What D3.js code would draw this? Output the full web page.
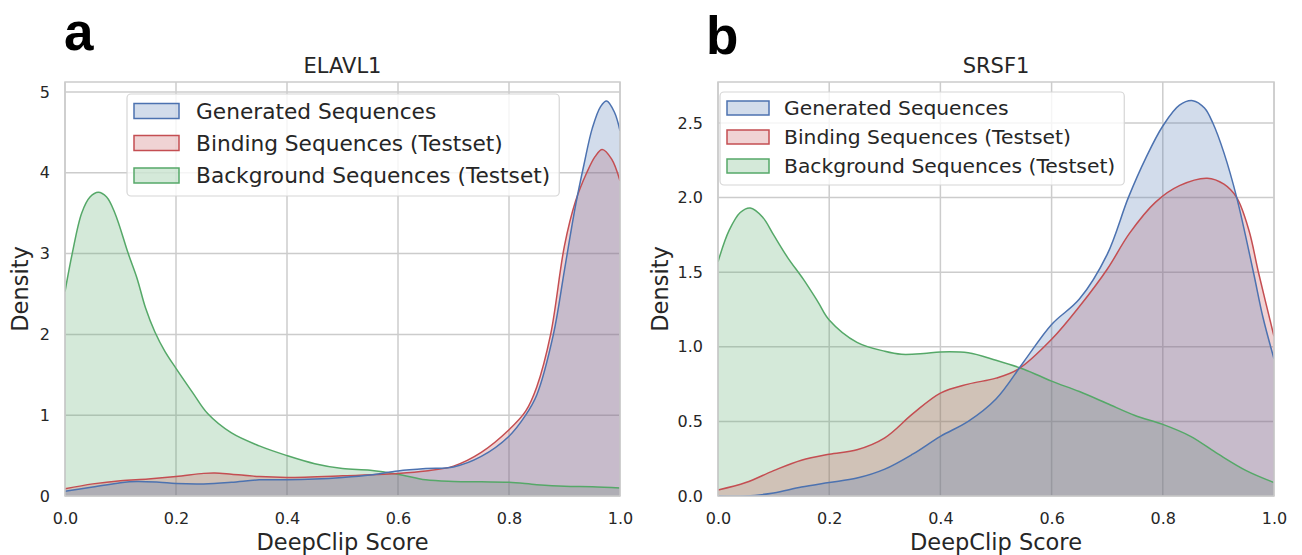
<!DOCTYPE html>
<html><head><meta charset="utf-8">
<script src="https://cdn.jsdelivr.net/npm/d3@7"></script>
<style>body{margin:0;background:#fff}</style>
</head><body>
<svg id="chart" width="1302" height="555"></svg>
<script>
// ---------- data ----------
const seriesNames = ["Generated Sequences", "Binding Sequences (Testset)", "Background Sequences (Testset)"];
const panelTitles = ["ELAVL1", "SRSF1"];
const panelLetters = ["a", "b"];
const xTicks = [0, 0.2, 0.4, 0.6, 0.8, 1.0];
const yTicksElavl = [0, 1, 2, 3, 4, 5];
const yTicksSrsf = [0, 0.5, 1.0, 1.5, 2.0, 2.5];

// ELAVL1 – generated
const elavlGenX = [0, 0.05, 0.1, 0.13, 0.17, 0.2, 0.25, 0.3, 0.35, 0.4, 0.45, 0.5, 0.55, 0.6, 0.65, 0.7, 0.75, 0.8, 0.83, 0.85, 0.88, 0.9, 0.92, 0.935, 0.95, 0.965, 0.976, 0.99, 1.0];
const elavlGenY = [0.06, 0.11, 0.165, 0.18, 0.17, 0.155, 0.15, 0.17, 0.2, 0.2, 0.21, 0.23, 0.26, 0.31, 0.34, 0.36, 0.49, 0.74, 1.0, 1.25, 2.0, 2.8, 3.6, 4.1, 4.55, 4.82, 4.89, 4.75, 4.52];
// ELAVL1 – binding
const elavlBindX = [0, 0.05, 0.1, 0.15, 0.2, 0.25, 0.27, 0.3, 0.35, 0.4, 0.5, 0.6, 0.65, 0.7, 0.75, 0.8, 0.83, 0.85, 0.875, 0.9, 0.92, 0.94, 0.955, 0.968, 0.985, 1.0];
const elavlBindY = [0.09, 0.15, 0.19, 0.21, 0.24, 0.28, 0.285, 0.27, 0.24, 0.23, 0.25, 0.28, 0.31, 0.37, 0.54, 0.82, 1.05, 1.35, 2.0, 3.1, 3.65, 4.0, 4.2, 4.29, 4.17, 3.9];
// ELAVL1 – background
const elavlBgX = [0, 0.013, 0.03, 0.045, 0.06, 0.075, 0.09, 0.114, 0.13, 0.145, 0.162, 0.18, 0.2, 0.23, 0.257, 0.3, 0.35, 0.4, 0.45, 0.5, 0.55, 0.6, 0.65, 0.7, 0.75, 0.8, 0.85, 0.9, 0.95, 1.0];
const elavlBgY = [2.53, 3.0, 3.5, 3.7, 3.76, 3.7, 3.5, 3.0, 2.69, 2.33, 2.03, 1.79, 1.58, 1.28, 1.02, 0.78, 0.62, 0.5, 0.4, 0.34, 0.32, 0.27, 0.2, 0.18, 0.175, 0.17, 0.14, 0.12, 0.115, 0.1];

// SRSF1 – generated
const srsfGenX = [0, 0.05, 0.1, 0.15, 0.2, 0.25, 0.3, 0.35, 0.4, 0.45, 0.5, 0.55, 0.6, 0.65, 0.7, 0.738, 0.77, 0.8, 0.83, 0.854, 0.875, 0.89, 0.91, 0.933, 0.963, 0.98, 1.0];
const srsfGenY = [0.0, 0.0, 0.02, 0.06, 0.09, 0.12, 0.18, 0.28, 0.4, 0.5, 0.65, 0.9, 1.15, 1.32, 1.62, 2.0, 2.27, 2.48, 2.62, 2.65, 2.6, 2.5, 2.3, 2.0, 1.5, 1.2, 0.92];
// SRSF1 – binding
const srsfBindX = [0, 0.05, 0.1, 0.15, 0.2, 0.25, 0.3, 0.35, 0.4, 0.45, 0.5, 0.54, 0.6, 0.65, 0.7, 0.74, 0.787, 0.83, 0.88, 0.91, 0.933, 0.955, 0.972, 1.0];
const srsfBindY = [0.04, 0.09, 0.17, 0.24, 0.28, 0.31, 0.39, 0.55, 0.69, 0.75, 0.79, 0.85, 1.05, 1.27, 1.52, 1.76, 1.97, 2.08, 2.13, 2.09, 2.0, 1.78, 1.5, 1.07];
// SRSF1 – background
const srsfBgX = [0, 0.02, 0.04, 0.058, 0.08, 0.1, 0.125, 0.154, 0.18, 0.2, 0.25, 0.3, 0.33, 0.37, 0.4, 0.45, 0.5, 0.55, 0.6, 0.65, 0.7, 0.75, 0.8, 0.85, 0.9, 0.95, 1.0];
const srsfBgY = [1.57, 1.78, 1.9, 1.93, 1.87, 1.75, 1.6, 1.45, 1.3, 1.18, 1.03, 0.97, 0.95, 0.955, 0.966, 0.96, 0.91, 0.85, 0.77, 0.7, 0.62, 0.54, 0.48, 0.4, 0.28, 0.17, 0.09];

// ---------- drawing ----------
const colors = ["#4C72B0", "#C44E52", "#55A868"];
const textColor = "#262626";
const gridColor = "#cccccc";
const FONT = "'DejaVu Sans', sans-serif";

const svg = d3.select("#chart");

const zip = (xs, ys) => xs.map((x, i) => ({x, y: ys[i]}));

const panels = [
  {title: panelTitles[0], letter: panelLetters[0], left: 65, right: 620, top: 82, bottom: 496,
   yMax: 5.124, yTicks: yTicksElavl, yFmt: d3.format("d"),
   series: [zip(elavlGenX, elavlGenY), zip(elavlBindX, elavlBindY), zip(elavlBgX, elavlBgY)],
   letterX: 64, letterY: 50, densityX: 28,
   legend: {x: 127, y: 94, patchX: 134, patchW: 45, patchH: 15, textX: 196, rowY: [111, 143, 175.5], fs: 21.7, h: 102}},
  {title: panelTitles[1], letter: panelLetters[1], left: 718, right: 1274, top: 82, bottom: 496,
   yMax: 2.775, yTicks: yTicksSrsf, yFmt: d3.format(".1f"),
   series: [zip(srsfGenX, srsfGenY), zip(srsfBindX, srsfBindY), zip(srsfBgX, srsfBgY)],
   letterX: 706, letterY: 54, densityX: 668,
   legend: {x: 720, y: 92, patchX: 727, patchW: 42, patchH: 14, textX: 784, rowY: [108, 137, 166], fs: 20.3, h: 93}}
];

panels.forEach((p, pi) => {
  const x = d3.scaleLinear().domain([0, 1]).range([p.left, p.right]);
  const y = d3.scaleLinear().domain([0, p.yMax]).range([p.bottom, p.top]);
  const g = svg.append("g");

  // grid
  g.append("g").selectAll("line").data(xTicks).join("line")
    .attr("x1", d => x(d)).attr("x2", d => x(d)).attr("y1", p.top).attr("y2", p.bottom)
    .attr("stroke", gridColor).attr("stroke-width", 1.5);
  g.append("g").selectAll("line").data(p.yTicks).join("line")
    .attr("x1", p.left).attr("x2", p.right).attr("y1", d => y(d)).attr("y2", d => y(d))
    .attr("stroke", gridColor).attr("stroke-width", 1.5);

  // clip
  const clipId = "clip" + pi;
  svg.append("clipPath").attr("id", clipId).append("rect")
    .attr("x", p.left).attr("y", p.top).attr("width", p.right - p.left).attr("height", p.bottom - p.top);

  const curve = d3.curveCatmullRom.alpha(0.5);
  const area = d3.area().x(d => x(d.x)).y0(y(0)).y1(d => y(d.y)).curve(curve);
  const line = d3.line().x(d => x(d.x)).y(d => y(d.y)).curve(curve);

  const plotG = g.append("g").attr("clip-path", `url(#${clipId})`);
  const order = [2, 1, 0];
  order.forEach(i => {
    plotG.append("path").datum(p.series[i]).attr("d", area)
      .attr("fill", colors[i]).attr("fill-opacity", 0.25).attr("stroke", "none");
  });
  order.forEach(i => {
    plotG.append("path").datum(p.series[i]).attr("d", line)
      .attr("fill", "none").attr("stroke", colors[i]).attr("stroke-width", 1.5);
  });

  // frame
  g.append("rect").attr("x", p.left).attr("y", p.top)
    .attr("width", p.right - p.left).attr("height", p.bottom - p.top)
    .attr("fill", "none").attr("stroke", gridColor).attr("stroke-width", 1.5);

  // axes (tick labels via d3 axes, no lines)
  const xAxis = d3.axisBottom(x).tickValues(xTicks).tickFormat(d3.format(".1f")).tickSize(0).tickPadding(17);
  const xa = g.append("g").attr("transform", `translate(0,${p.bottom})`).call(xAxis);
  xa.select(".domain").remove();
  xa.selectAll("text").attr("font-family", FONT).attr("font-size", 16).attr("fill", textColor);

  const yAxis = d3.axisLeft(y).tickValues(p.yTicks).tickFormat(p.yFmt).tickSize(0).tickPadding(15);
  const ya = g.append("g").attr("transform", `translate(${p.left},0)`).call(yAxis);
  ya.select(".domain").remove();
  ya.selectAll("text").attr("font-family", FONT).attr("font-size", 16).attr("fill", textColor);

  // titles & labels
  g.append("text").attr("x", (p.left + p.right) / 2).attr("y", 73).attr("text-anchor", "middle")
    .attr("font-family", FONT).attr("font-size", 21).attr("fill", textColor).text(p.title);
  g.append("text").attr("x", (p.left + p.right) / 2).attr("y", 550).attr("text-anchor", "middle")
    .attr("font-family", FONT).attr("font-size", 22.5).attr("fill", textColor).text("DeepClip Score");
  g.append("text").attr("transform", `translate(${p.densityX},${(p.top + p.bottom) / 2}) rotate(-90)`)
    .attr("text-anchor", "middle").attr("font-family", FONT).attr("font-size", 22.5)
    .attr("fill", textColor).text("Density");
  g.append("text").attr("x", p.letterX).attr("y", p.letterY)
    .attr("font-family", "'Liberation Sans', Arial, sans-serif").attr("font-weight", 700)
    .attr("font-size", 53).attr("fill", "#000").text(p.letter);

  // legend
  const L = p.legend;
  const lg = g.append("g");
  const box = lg.append("rect").attr("x", L.x).attr("y", L.y).attr("height", L.h)
    .attr("rx", 4).attr("ry", 4).attr("fill", "#fff").attr("fill-opacity", 0.8)
    .attr("stroke", "#d6d6d6").attr("stroke-width", 1.2);
  let maxEnd = 0;
  seriesNames.forEach((name, i) => {
    lg.append("rect").attr("x", L.patchX).attr("y", L.rowY[i] - L.patchH / 2)
      .attr("width", L.patchW).attr("height", L.patchH)
      .attr("fill", colors[i]).attr("fill-opacity", 0.25)
      .attr("stroke", colors[i]).attr("stroke-width", 1.5);
    const t = lg.append("text").attr("x", L.textX).attr("y", L.rowY[i] + L.fs * 0.36)
      .attr("font-family", FONT).attr("font-size", L.fs).attr("fill", textColor).text(name);
    maxEnd = Math.max(maxEnd, L.textX + t.node().getComputedTextLength());
  });
  box.attr("width", maxEnd + 9 - L.x);
});
</script>
</body></html>
